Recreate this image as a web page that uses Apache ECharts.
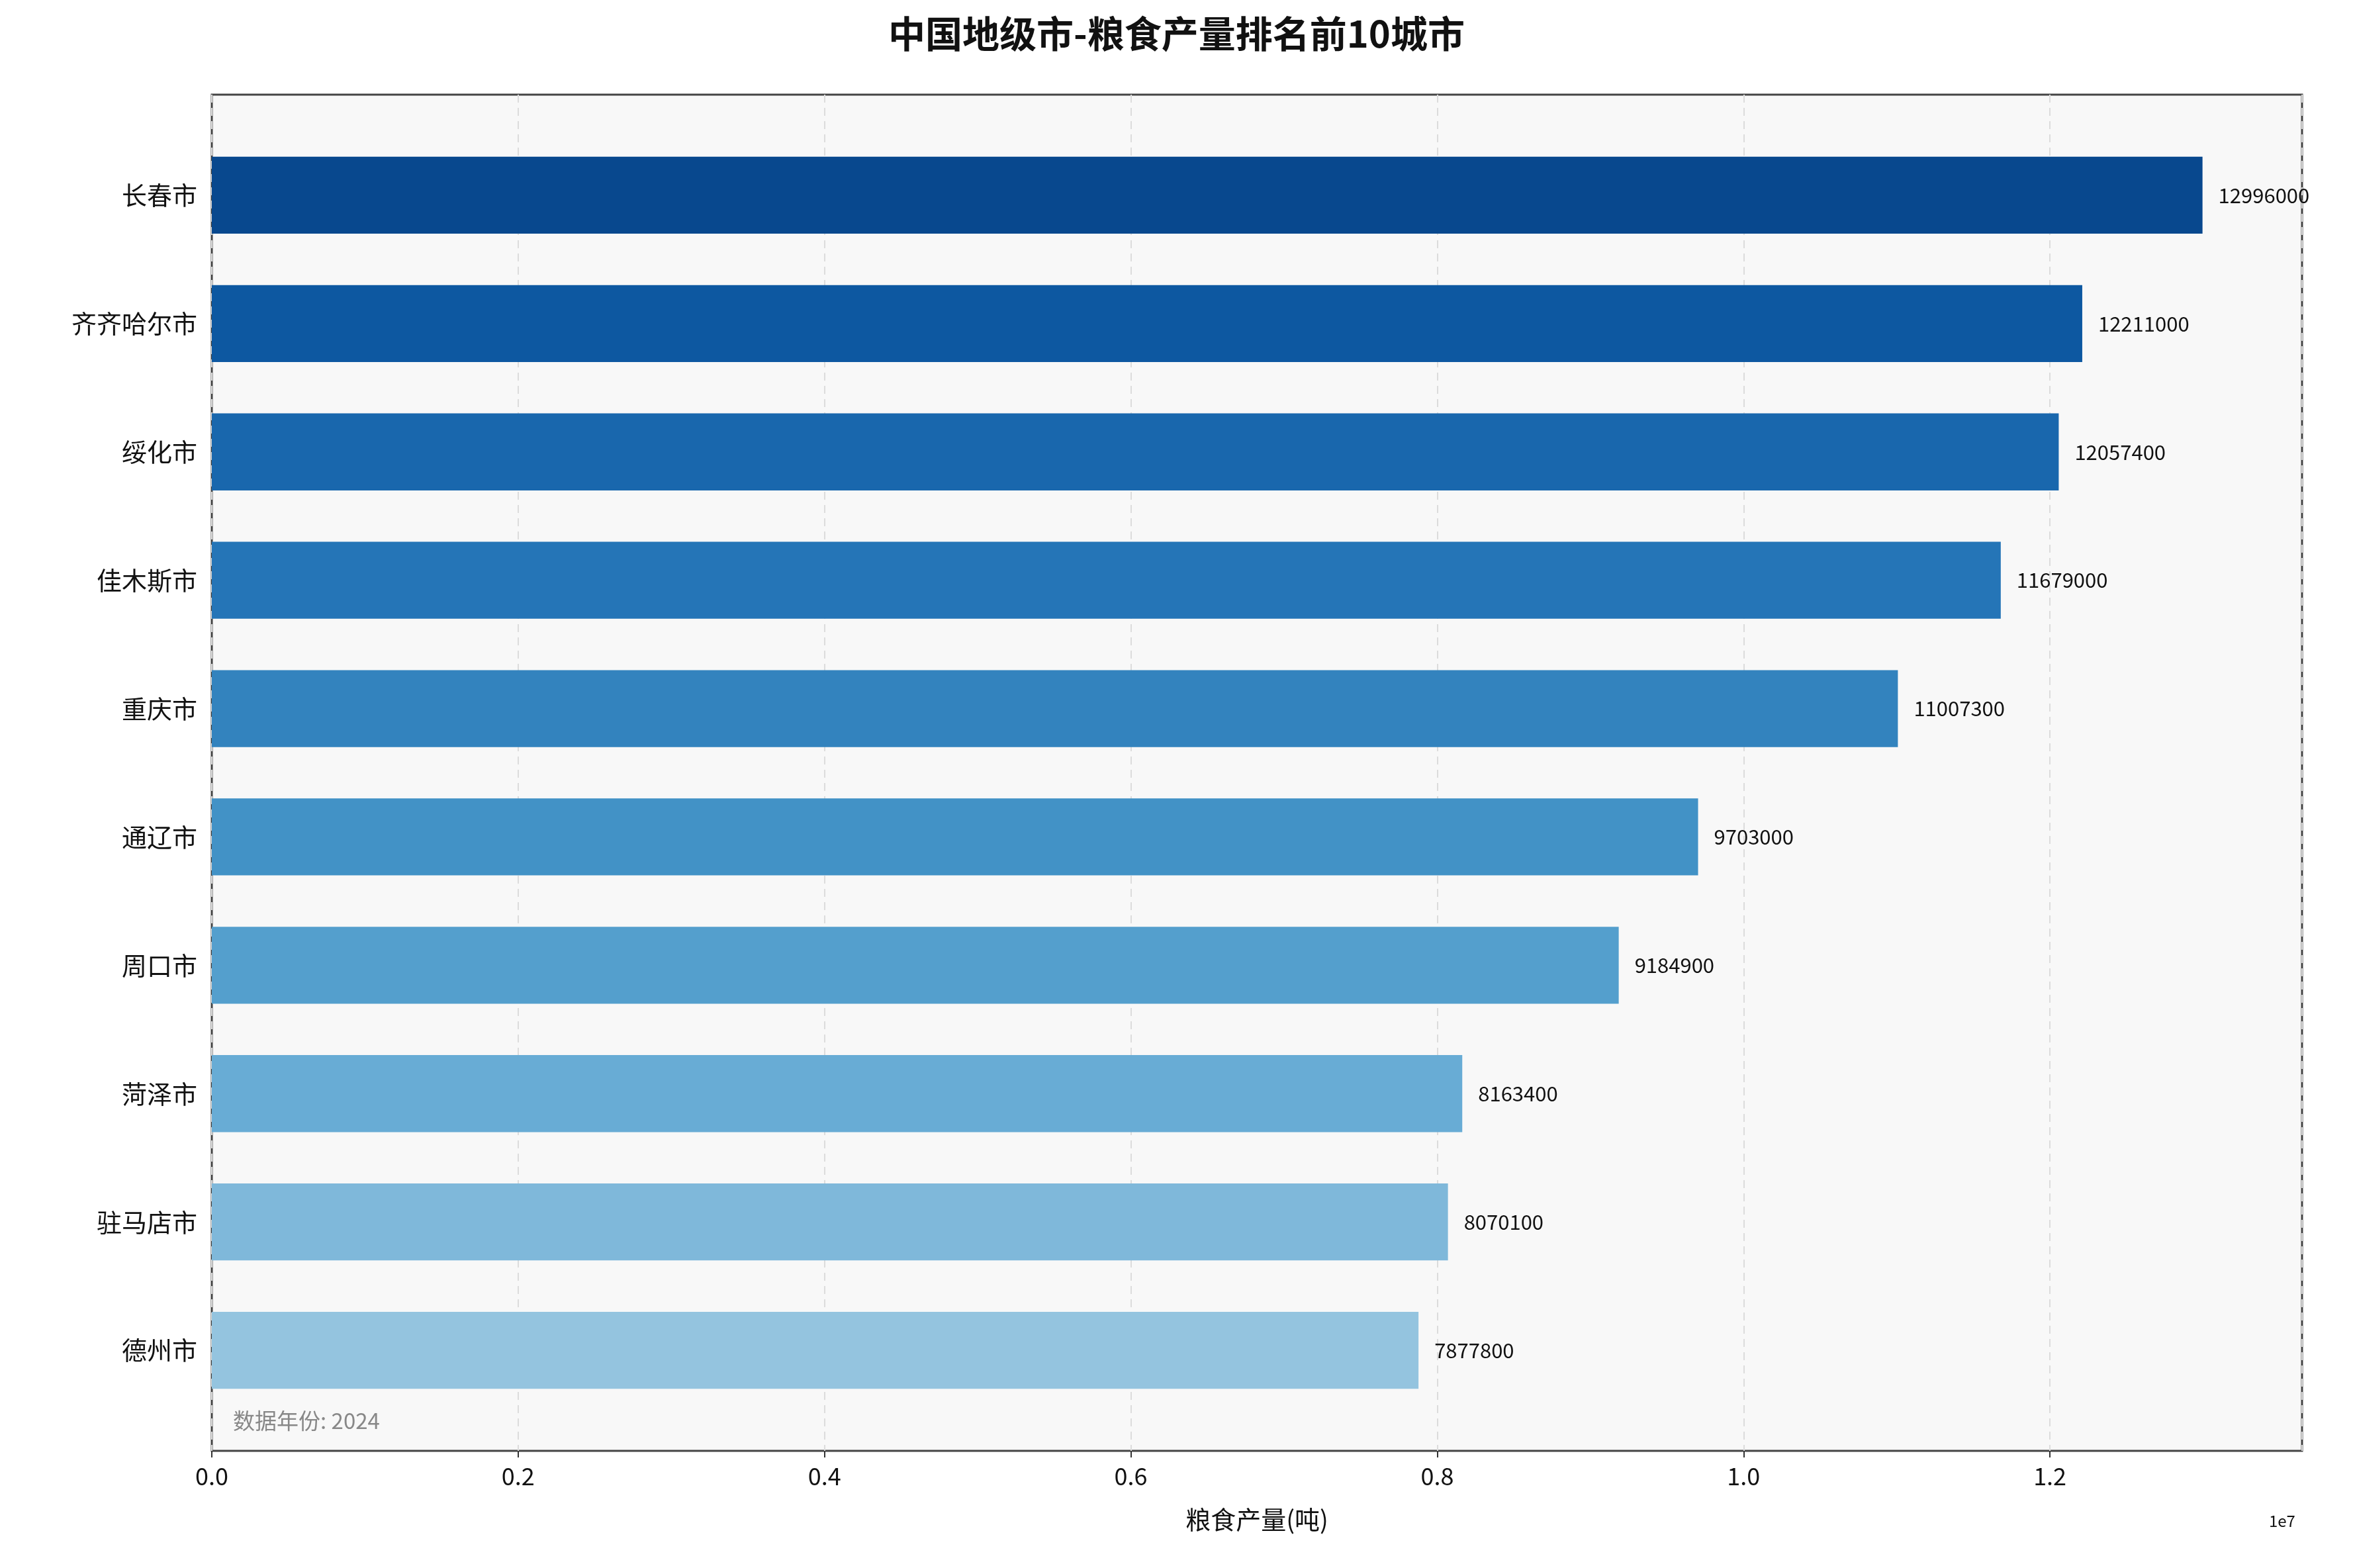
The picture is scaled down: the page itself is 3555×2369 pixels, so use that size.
<!DOCTYPE html>
<html><head><meta charset="utf-8">
<script src="https://cdn.jsdelivr.net/npm/echarts@6/dist/echarts.min.js"></script>
<style>html,body{margin:0;padding:0;background:#fff}#c{width:3555px;height:2369px}</style>
</head><body><div id="c"></div>
<script>
const cities = ['长春市','齐齐哈尔市','绥化市','佳木斯市','重庆市','通辽市','周口市','菏泽市','驻马店市','德州市'];
const values = [12996000,12211000,12057400,11679000,11007300,9703000,9184900,8163400,8070100,7877800];
const colors = ['#08488e','#0d58a1','#1967ad','#2575b7','#3383be','#4292c6','#549fcd','#68acd5','#7fb8da','#94c4df'];
const F = 'Noto Sans CJK SC';
const XMAX = 13645800;
const chart = echarts.init(document.getElementById('c'));
chart.setOption({
  backgroundColor:'#fff',
  textStyle:{fontFamily:F},
  title:{text:'中国地级市-粮食产量排名前10城市',left:'center',top:18,textStyle:{fontSize:56,fontWeight:'bold',color:'#111',fontFamily:F}},
  grid:[
    {left:320,right:77,top:143,bottom:177,show:true,backgroundColor:'#f8f8f8',borderColor:'#444',borderWidth:3},
    {left:320,right:77,top:198,bottom:232}
  ],
  xAxis:[
    {gridIndex:0,type:'value',min:0,max:XMAX,interval:2000000,
    name:'粮食产量(吨)',nameLocation:'middle',nameGap:85,nameTextStyle:{fontSize:38,color:'#111',fontFamily:F},
    axisLine:{show:false},axisTick:{show:true,length:10,lineStyle:{color:'#333',width:2}},
    axisLabel:{fontSize:36,color:'#111',margin:20,showMaxLabel:false,formatter:v=>(v/1e7).toFixed(1)},
    splitLine:{show:true,lineStyle:{type:[12,8],color:'#dcdcdc',width:2}}},
    {gridIndex:1,type:'value',min:0,max:XMAX,show:false,splitLine:{show:false}}
  ],
  yAxis:[
    {gridIndex:0,type:'value',show:false,splitLine:{show:false}},
    {gridIndex:1,type:'category',inverse:true,data:cities,
    axisLine:{show:false},axisTick:{show:false},splitLine:{show:false},
    axisLabel:{fontSize:38,color:'#111',margin:22}}
  ],
  series:[{type:'bar',xAxisIndex:1,yAxisIndex:1,barWidth:'60%',
    data:values.map((v,i)=>({value:v,itemStyle:{color:colors[i]}})),
    label:{show:true,position:'right',distance:24,fontSize:31,color:'#111',formatter:p=>p.value}}],
  graphic:[
    {type:'text',left:352,top:2130,style:{text:'数据年份: 2024',fontSize:33,fill:'#888',fontFamily:F}},
    {type:'text',left:3428,top:2286,style:{text:'1e7',fontSize:24,fill:'#111',fontFamily:F}}
  ]
});
</script></body></html>
